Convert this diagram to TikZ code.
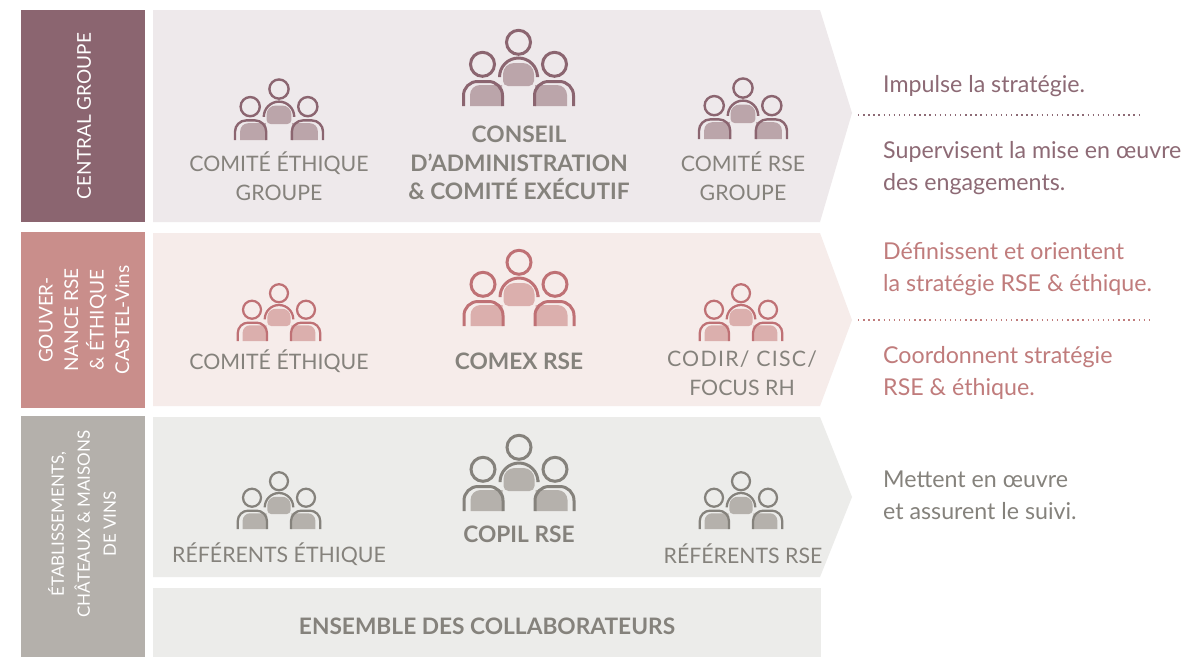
\documentclass[tikz,border=0pt]{standalone}
\usepackage{fontspec}
\setmainfont{Lato}
\definecolor{barA}{HTML}{8B6570}\definecolor{panA}{HTML}{EEE9EB}\definecolor{fillA}{HTML}{BBA5AA}
\definecolor{barB}{HTML}{C98E8B}\definecolor{panB}{HTML}{F6ECEA}\definecolor{fillB}{HTML}{DBAFAD}\definecolor{lineB}{HTML}{BF7175}
\definecolor{barC}{HTML}{B4B0AB}\definecolor{panC}{HTML}{ECECEA}\definecolor{fillC}{HTML}{B5B1AC}\definecolor{lineC}{HTML}{85827C}
\definecolor{txtG}{HTML}{85827C}\definecolor{txtA}{HTML}{8D6A75}\definecolor{txtB}{HTML}{C07C7C}
\tikzset{x=1pt,y=-1pt,
 lab/.style={text=txtG,font=\fontsize{21.3}{28.5}\selectfont,align=center,inner sep=0},
 blab/.style={text=txtG,font=\fontsize{22.7}{28.5}\selectfont\bfseries,align=center,inner sep=0},
 side/.style={text=white,font=\fontsize{19}{25.5}\selectfont,align=center,rotate=90,inner sep=0},
 sidesm/.style={text=white,font=\fontsize{17}{26}\selectfont,align=center,rotate=90,inner sep=0},
 rlab/.style={font=\fontsize{23.2}{32}\selectfont,align=left,anchor=north west,inner sep=0},
 sep/.style={line width=1.4pt,dash pattern=on 1.4pt off 3.7pt}}
% #1 x, #2 bottom y, #3 scale, #4 line, #5 fill
\newcommand{\folks}[5]{\begin{scope}[shift={(#1,#2)},scale=#3]
 \fill[#5] (-15.5,-25) -- (-15.5,-32) arc[start angle=-180,end angle=-90,radius=11] -- (4.5,-43) arc[start angle=-90,end angle=0,radius=11] -- (15.5,-25) arc[start angle=0,end angle=90,radius=5] -- (-10.5,-20) arc[start angle=90,end angle=180,radius=5] --cycle;
 \draw[#4,line width=3pt*#3] (-19,-31) -- (-19,-29) arc[start angle=-180,end angle=0,radius=19] -- (19,-31);
 \draw[#4,line width=3pt*#3] (0,-63.7) circle[radius=12];
 \foreach \s in {-1,1}{
  \begin{scope}[shift={(\s*35.5,0)},xscale=\s]
  \fill[#5] (-19,0) -- (-19,-21) -- (3,-21) arc[start angle=-90,end angle=0,radius=10] -- (13,0) --cycle;
  \draw[#4,line width=3pt*#3] (-19.5,0) -- (-19.5,-10.5) arc[start angle=-180,end angle=-90,radius=14] -- (5.5,-24.5) arc[start angle=-90,end angle=0,radius=14] -- (19.5,0);
  \draw[#4,line width=3pt*#3] (0.5,-41.7) circle[radius=12];
  \end{scope}}
 \end{scope}}
\begin{document}
\begin{tikzpicture}
\useasboundingbox (0,0) rectangle (1186,657);
\fill[white] (0,0) rectangle (1186,657);
% bars
\fill[barA] (21,10) rectangle (145,222);
\fill[barB] (21,232) rectangle (145,408);
\fill[barC] (21,416) rectangle (145,657);
% panels
\fill[panA] (153,10) -- (820,10) -- (852,113) -- (820,222) -- (153,222) --cycle;
\fill[panB] (153,233) -- (820,233) -- (852,320) -- (820,406) -- (153,406) --cycle;
\fill[panC] (153,417) -- (820,417) -- (852,497) -- (820,577) -- (153,577) --cycle;
\fill[panC] (153,588) rectangle (821,657);
% side labels
\node[side] (sA) at (84,116) {CENTRAL GROUPE};
\node[side] (sB) at (84,320) {GOUVER-\\NANCE RSE\\\& ÉTHIQUE\\CASTEL-Vins};
\node[sidesm] (sC) at (82,524) {ÉTABLISSEMENTS,\\CHÂTEAUX \& MAISONS\\DE VINS};
% icons
\folks{279}{140}{.8}{barA}{fillA}
\folks{518.5}{106}{1}{barA}{fillA}
\folks{743}{139}{.8}{barA}{fillA}
\folks{279}{341}{.75}{lineB}{fillB}
\folks{519}{326}{1}{lineB}{fillB}
\folks{741}{341}{.75}{lineB}{fillB}
\folks{279}{529}{.75}{lineC}{fillC}
\folks{519}{511}{1}{lineC}{fillC}
\folks{741}{529}{.75}{lineC}{fillC}
% labels
\node[lab] (a1) at (279,176) {COMITÉ ÉTHIQUE\\GROUPE};
\node[blab] (a2) at (519,163) {CONSEIL\\D’ADMINISTRATION\\\& COMITÉ EXÉCUTIF};
\node[lab] (a3) at (743,176) {COMITÉ RSE\\GROUPE};
\node[lab] (b1) at (279,361) {COMITÉ ÉTHIQUE};
\node[blab] (b2) at (519,361) {COMEX RSE};
\node[lab] (b3) at (742,373) {{\addfontfeature{LetterSpace=6}CODIR/ CISC/}\\FOCUS RH};
\node[lab] (c1) at (279,554) {RÉFÉRENTS ÉTHIQUE};
\node[blab] (c2) at (519,534) {COPIL RSE};
\node[lab] (c3) at (743,554) {RÉFÉRENTS RSE};
\node[blab] (d) at (487,626) {ENSEMBLE DES COLLABORATEURS};
% right texts
\node[rlab,text=txtA] (r1) at (883,75) {Impulse la stratégie.};
\node[rlab,text=txtA] (r2) at (883,141) {Supervisent la mise en œuvre\\des engagements.};
\node[rlab,text=txtB] (r3) at (883,242) {Définissent et orientent\\la stratégie RSE \& éthique.};
\node[rlab,text=txtB] (r4) at (883,346) {Coordonnent stratégie\\RSE \& éthique.};
\node[rlab,text=lineC] (r5) at (883,471) {Mettent en œuvre\\et assurent le suivi.};
\coordinate (s1a) at (858,115);\coordinate (s1b) at (1141,115);
\coordinate (s2a) at (858,320);\coordinate (s2b) at (1151,320);
\draw[sep,txtA] (s1a) -- (s1b);
\draw[sep,txtB] (s2a) -- (s2b);
\end{tikzpicture}
\end{document}
